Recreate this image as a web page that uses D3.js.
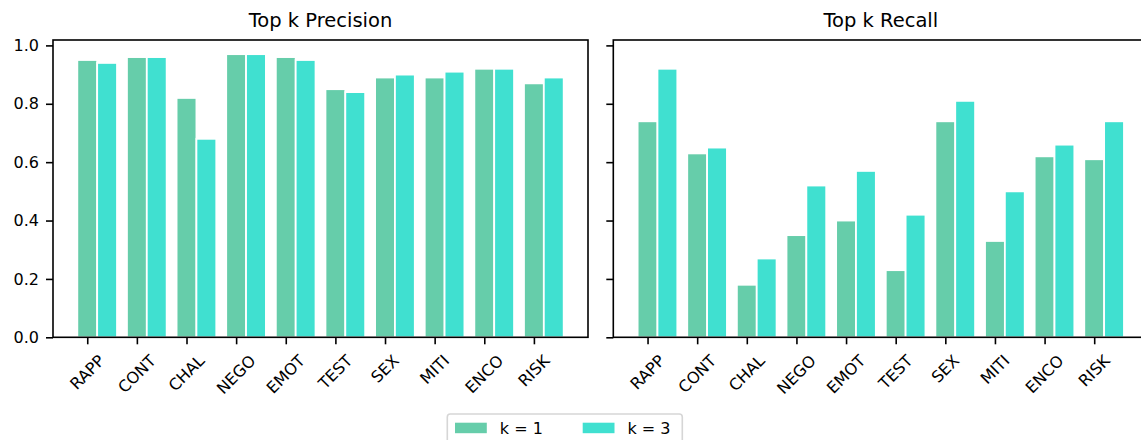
<!DOCTYPE html>
<html>
<head>
<meta charset="utf-8">
<script src="https://cdn.jsdelivr.net/npm/d3@7"></script>
<style>
  body { margin: 0; background: #fff; }
  svg { display: block; font-family: "DejaVu Sans", sans-serif; }
</style>
</head>
<body>
<svg id="chart" width="1141" height="440"></svg>
<script>
const categories = ["RAPP", "CONT", "CHAL", "NEGO", "EMOT", "TEST", "SEX", "MITI", "ENCO", "RISK"];
const precisionK1 = [0.95, 0.96, 0.82, 0.97, 0.96, 0.85, 0.89, 0.89, 0.92, 0.87];
const precisionK3 = [0.94, 0.96, 0.68, 0.97, 0.95, 0.84, 0.90, 0.91, 0.92, 0.89];
const recallK1 = [0.74, 0.63, 0.18, 0.35, 0.40, 0.23, 0.74, 0.33, 0.62, 0.61];
const recallK3 = [0.92, 0.65, 0.27, 0.52, 0.57, 0.42, 0.81, 0.50, 0.66, 0.74];
const yTicks = [0.0, 0.2, 0.4, 0.6, 0.8, 1.0];
const seriesNames = ["k = 1", "k = 3"];
const seriesColors = ["#66cdaa", "#40e0d0"];

const svg = d3.select("#chart");
const plotTop = 40, plotBottom = 337.3;
const y = d3.scaleLinear().domain([0, 1.0185]).range([plotBottom, plotTop]);

function drawPanel(left, right, title, k1, k3, showYLabels) {
	let x = d3.scaleLinear().domain([-0.69, 10.09]).range([left, right]);
	let g = svg.append("g");
	let barWidth = 0.4;

	[k1, k3].forEach((values, s) => {
		g.selectAll(null)
			.data(values)
			.enter()
			.append("rect")
			.attr("x", (d, i) => x(i - barWidth / 2 + s * barWidth))
			.attr("width", x(barWidth) - x(0))
			.attr("y", d => y(d))
			.attr("height", d => y(0) - y(d))
			.attr("fill", seriesColors[s])
			.attr("stroke", "#fff")
			.attr("stroke-width", 1.8);
	});

	// y ticks
	let yAxis = d3.axisLeft(y).tickValues(yTicks).tickSize(7).tickPadding(7)
		.tickFormat(showYLabels ? d3.format(".1f") : () => "");
	let ya = g.append("g").attr("transform", `translate(${left},0)`).call(yAxis);
	ya.select(".domain").remove();
	ya.selectAll("line").attr("stroke", "#000").attr("stroke-width", 1.6);
	ya.selectAll("text").attr("font-size", 16).attr("fill", "#000")
		.attr("font-family", "DejaVu Sans");

	// x ticks
	let xAxis = d3.axisBottom(x).tickValues(d3.range(categories.length)).tickSize(7)
		.tickFormat("");
	let xa = g.append("g").attr("transform", `translate(0,${plotBottom})`).call(xAxis);
	xa.select(".domain").remove();
	xa.selectAll("line").attr("stroke", "#000").attr("stroke-width", 1.6);

	// rotated category labels, centred under each tick like matplotlib
	let labelTop = plotBottom + 14;
	let lineH = 16 * 1.16;
	categories.forEach((c, i) => {
		let t = g.append("text")
			.attr("font-size", 16)
			.attr("text-anchor", "middle")
			.attr("dominant-baseline", "central")
			.text(c);
		let w = t.node().getComputedTextLength();
		let h = (w + lineH) / Math.SQRT2;
		let cx = x(i), cy = labelTop + h / 2;
		t.attr("transform", `translate(${cx},${cy}) rotate(-45)`);
	});

	// spines
	g.append("rect")
		.attr("x", left).attr("y", plotTop)
		.attr("width", right - left).attr("height", plotBottom - plotTop)
		.attr("fill", "none").attr("stroke", "#000").attr("stroke-width", 1.6);

	g.append("text")
		.attr("x", (left + right) / 2)
		.attr("y", 27)
		.attr("text-anchor", "middle")
		.attr("font-size", 19.5)
		.text(title);
}

drawPanel(53, 588, "Top k Precision", precisionK1, precisionK3, true);
drawPanel(613.3, 1148.3, "Top k Recall", recallK1, recallK3, false);

// legend
let legend = svg.append("g");
legend.append("rect")
	.attr("x", 447.3).attr("y", 414)
	.attr("width", 235).attr("height", 34)
	.attr("rx", 3)
	.attr("fill", "#fff")
	.attr("stroke", "#d6d6d6").attr("stroke-width", 1.6);
let itemX = [455, 582.7];
seriesNames.forEach((name, s) => {
	legend.append("rect")
		.attr("x", itemX[s]).attr("y", 422.7)
		.attr("width", 31.8).attr("height", 10.5)
		.attr("fill", seriesColors[s]);
	legend.append("text")
		.attr("x", itemX[s] + 31.8 + 13)
		.attr("y", 433.5)
		.attr("font-size", 16)
		.text(name);
});
</script>
</body>
</html>
